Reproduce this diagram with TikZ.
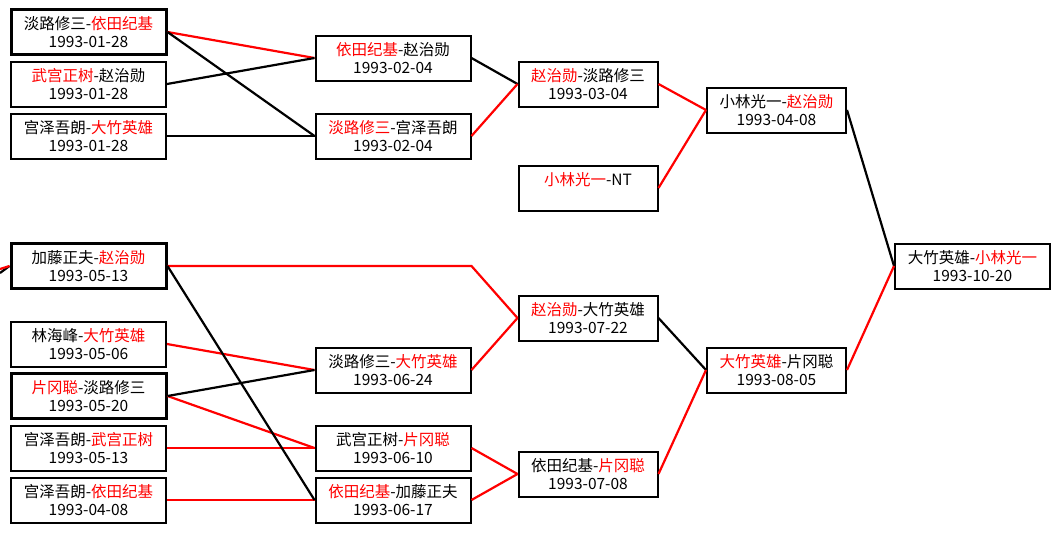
\documentclass[tikz,border=0pt]{standalone}
\usepackage{fontspec}
\setmainfont{Noto Sans CJK SC}
\usetikzlibrary{calc}
\usetikzlibrary{positioning}
\tikzstyle{gamebox} = [draw, line width=2pt, minimum height=45pt, inner sep=0pt, align=center, font=\fontsize{15.5pt}{17.5pt}\selectfont]
\tikzstyle{boldbox} = [line width=3pt]
\tikzstyle{wideA} = [minimum width=155pt]
\tikzstyle{wideB} = [minimum width=139pt]
\tikzstyle{redline} = [draw=red, line width=2.2pt]
\tikzstyle{blackline} = [draw=black, line width=2.2pt]
\newcommand{\rd}[1]{\textcolor{red}{#1}}

\begin{document}
\begin{tikzpicture}[x=1pt,y=-1pt]
    \useasboundingbox[fill=white] (0,0) rectangle (1060,533);

    \node[gamebox, wideA, boldbox] (r1_a) at (88.5,32) {淡路修三-\rd{依田纪基}\\1993-01-28};
    \node[gamebox, wideA] (r1_b) at ($(r1_a)+(0,52)$) {\rd{武宫正树}-赵治勋\\1993-01-28};
    \node[gamebox, wideA] (r1_c) at ($(r1_b)+(0,52)$) {宫泽吾朗-\rd{大竹英雄}\\1993-01-28};
    \node[gamebox, wideA, boldbox] (r1_d) at ($(r1_c)+(0,130)$) {加藤正夫-\rd{赵治勋}\\1993-05-13};
    \node[gamebox, wideA] (r1_e) at ($(r1_d)+(0,78)$) {林海峰-\rd{大竹英雄}\\1993-05-06};
    \node[gamebox, wideA, boldbox] (r1_f) at ($(r1_e)+(0,52)$) {\rd{片冈聪}-淡路修三\\1993-05-20};
    \node[gamebox, wideA] (r1_g) at ($(r1_f)+(0,52)$) {宫泽吾朗-\rd{武宫正树}\\1993-05-13};
    \node[gamebox, wideA] (r1_h) at ($(r1_g)+(0,52)$) {宫泽吾朗-\rd{依田纪基}\\1993-04-08};

    \node[gamebox, wideA] (r2_a) at ($(r1_a)+(304.5,26)$) {\rd{依田纪基}-赵治勋\\1993-02-04};
    \node[gamebox, wideA] (r2_b) at ($(r1_c)+(304.5,0)$) {\rd{淡路修三}-宫泽吾朗\\1993-02-04};
    \node[gamebox, wideA] (r2_c) at ($(r1_e)+(304.5,26)$) {淡路修三-\rd{大竹英雄}\\1993-06-24};
    \node[gamebox, wideA] (r2_d) at ($(r1_g)+(304.5,0)$) {武宫正树-\rd{片冈聪}\\1993-06-10};
    \node[gamebox, wideA] (r2_e) at ($(r1_h)+(304.5,0)$) {\rd{依田纪基}-加藤正夫\\1993-06-17};

    \node[gamebox, wideB] (r3_a) at ($(r2_a)+(195,26)$) {\rd{赵治勋}-淡路修三\\1993-03-04};
    \node[gamebox, wideB] (r3_b) at ($(r3_a)+(0,104)$) {\rd{小林光一}-NT\\\phantom{1993-00-00}};
    \node[gamebox, wideB] (r3_c) at ($(r2_c)+(195,-52)$) {\rd{赵治勋}-大竹英雄\\1993-07-22};
    \node[gamebox, wideB] (r3_d) at ($(r2_d)+(195,26)$) {依田纪基-\rd{片冈聪}\\1993-07-08};

    \node[gamebox, wideB] (r4_a) at ($(r3_a)+(188.5,26)$) {小林光一-\rd{赵治勋}\\1993-04-08};
    \node[gamebox, wideB] (r4_b) at ($(r3_c)+(188.5,52)$) {\rd{大竹英雄}-片冈聪\\1993-08-05};

    \node[gamebox, wideA] (final) at ($(r1_d)+(884,0)$) {大竹英雄-\rd{小林光一}\\1993-10-20};

    \coordinate (stub_b) at (0,273);
    \coordinate (stub_r) at (0,269);
    \draw[blackline] (stub_b) -- (r1_d.west);
    \draw[redline] (stub_r) -- (r1_d.west);

    \draw[redline] (r1_a.east) -- (r2_a.west);
    \draw[blackline] (r1_a.east) -- (r2_b.west);
    \draw[blackline] (r1_b.east) -- (r2_a.west);
    \draw[blackline] (r1_c.east) -- (r2_b.west);
    \draw[blackline] (r2_a.east) -- (r3_a.west);
    \draw[redline] (r2_b.east) -- (r3_a.west);
    \draw[redline] (r3_a.east) -- (r4_a.west);
    \draw[redline] (r3_b.east) -- (r4_a.west);
    \draw[blackline] (r4_a.east) -- (final.west);

    \draw[redline] (r1_d.east) -- (r1_d.east -| r2_a.east) -- (r3_c.west);
    \draw[redline] (r1_e.east) -- (r2_c.west);
    \draw[redline] (r1_f.east) -- (r2_d.west);
    \draw[redline] (r1_g.east) -- (r2_d.west);
    \draw[redline] (r1_h.east) -- (r2_e.west);
    \draw[blackline] (r1_f.east) -- (r2_c.west);
    \draw[blackline] (r1_d.east) -- (r2_e.west);
    \draw[redline] (r2_c.east) -- (r3_c.west);
    \draw[redline] (r2_d.east) -- (r3_d.west);
    \draw[redline] (r2_e.east) -- (r3_d.west);
    \draw[blackline] (r3_c.east) -- (r4_b.west);
    \draw[redline] (r3_d.east) -- (r4_b.west);
    \draw[redline] (r4_b.east) -- (final.west);
\end{tikzpicture}
\end{document}
